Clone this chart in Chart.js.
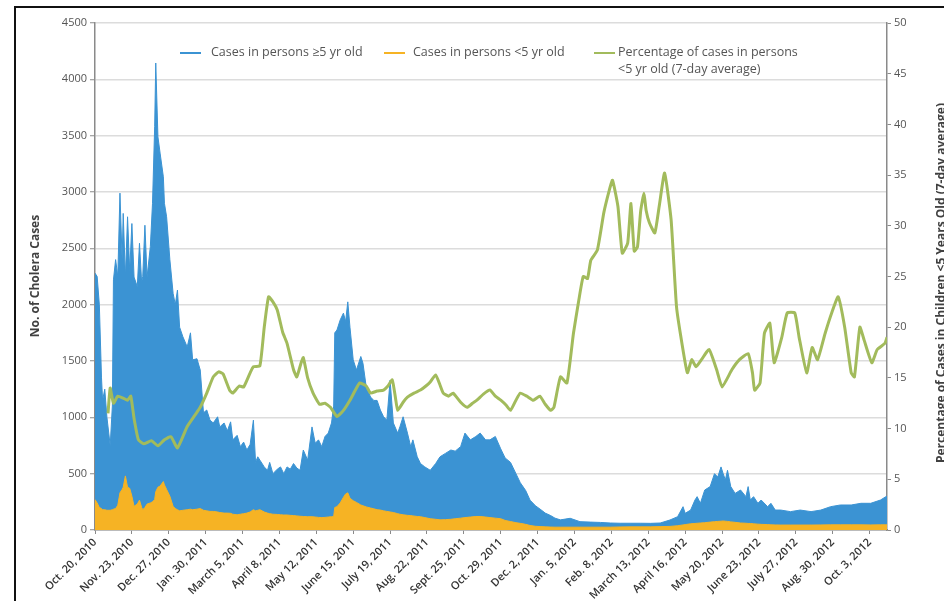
<!DOCTYPE html>
<html>
<head>
<meta charset="utf-8">
<script src="https://cdn.jsdelivr.net/npm/chart.js@4.4.1/dist/chart.umd.min.js"></script>
<style>
html,body{margin:0;padding:0;background:#fff;}
#wrap{position:relative;width:944px;height:601px;overflow:hidden;font-family:"Open Sans",sans-serif;}
#c{position:absolute;left:0;top:0;}
.frame{position:absolute;left:14px;top:6px;width:980px;height:640px;border-left:2px solid #111;border-top:2px solid #111;}
.ttl{position:absolute;font-weight:700;font-size:12px;color:#404040;white-space:nowrap;transform:translate(-50%,-50%) rotate(-90deg);}
.lg{position:absolute;font-size:12.5px;color:#555;line-height:17px;white-space:nowrap;}
.sw{position:absolute;height:2px;width:21px;}
</style>
</head>
<body>
<div id="wrap">
  <canvas id="c" width="944" height="601"></canvas>
  <div class="frame"></div>
  <div class="ttl" style="left:34px;top:276px;">No. of Cholera Cases</div>
  <div class="ttl" style="left:940px;top:283px;">Percentage of Cases in Children &lt;5 Years Old (7-day average)</div>
  <div class="sw" style="left:180px;top:52px;background:#3b93d3"></div>
  <div class="lg" style="left:211px;top:43px;">Cases in persons ≥5 yr old</div>
  <div class="sw" style="left:384px;top:52px;background:#f6b324"></div>
  <div class="lg" style="left:413px;top:43px;">Cases in persons &lt;5 yr old</div>
  <div class="sw" style="left:594px;top:52px;background:#a2bb5c"></div>
  <div class="lg" style="left:618px;top:43px;">Percentage of cases in persons<br>&lt;5 yr old (7-day average)</div>
</div>
<script>
'use strict';
/* Haiti cholera cases, daily, Oct 20 2010 - Oct 2012 (day 0 = Oct 20, 2010) */
const tickLabels=['Oct. 20, 2010','Nov. 23, 2010','Dec. 27, 2010','Jan. 30, 2011','March 5, 2011','April 8, 2011',
  'May 12, 2011','June 15, 2011','July 19, 2011','Aug. 22, 2011','Sept. 25, 2011','Oct. 29, 2011','Dec. 2, 2011',
  'Jan. 5, 2012','Feb. 8, 2012','March 13, 2012','April 16, 2012','May 20, 2012','June 23, 2012','July 27, 2012',
  'Aug. 30, 2012','Oct. 3, 2012'];
const tickDays=[0,34,68,102,136,170,204,238,272,306,340,374,408,442,476,510,544,578,612,646,680,714];

const caseDays=[
  0,2,4,6,7,9,11,14,16,17,
  19,21,23,25,26,28,30,32,34,36,
  39,41,43,44,46,48,51,53,55,56,
  58,60,63,64,66,69,72,74,76,78,
  81,85,88,90,94,97,100,103,106,109,
  113,115,119,122,125,127,131,134,137,140,
  143,146,148,150,152,156,159,161,164,168,
  171,174,177,180,183,186,189,192,196,200,
  203,206,209,212,215,218,220,221,223,226,
  229,231,233,235,238,241,245,247,250,254,
  257,260,263,266,269,272,275,279,281,284,
  288,291,293,297,300,304,309,314,318,323,
  328,332,337,341,346,351,355,360,364,369,
  374,378,383,388,392,397,401,406,411,415,
  420,424,429,438,447,457,466,475,484,494,
  503,512,521,530,537,542,544,549,553,555,
  558,562,567,571,574,577,579,581,583,586,
  590,595,600,602,604,607,611,614,620,623,
  627,632,641,650,660,669,678,687,697,706,
  715,724,729,730];
// top of the blue area (all ages)
const casesAll=[
  2280,2250,2000,1350,1150,1250,1000,750,1100,2220,
  2400,2250,2990,2400,2810,2245,2780,2300,2720,2245,
  2160,2545,2200,2250,2705,2245,2515,2900,3580,4145,
  3490,3345,3135,2900,2780,2400,2100,2000,2130,1800,
  1715,1625,1750,1510,1520,1420,1040,1065,975,950,
  1005,915,950,880,960,800,840,740,780,710,
  760,975,600,650,620,560,530,600,500,540,
  560,500,560,540,590,550,530,710,620,915,
  770,800,740,830,860,950,1100,1750,1775,1865,
  1925,1850,2025,1800,1510,1420,1540,1480,1270,1180,
  1150,1150,1065,1005,975,1330,950,860,915,1005,
  860,740,800,650,590,560,530,590,650,680,
  710,700,740,860,800,830,860,800,800,830,
  720,640,600,500,420,350,265,215,180,150,
  128,105,90,104,74,70,67,62,60,60,
  60,59,62,89,118,207,148,177,266,296,
  237,355,385,500,470,560,500,444,530,385,
  325,355,296,385,266,296,237,266,207,237,
  177,177,163,177,163,177,207,222,222,237,
  237,266,296,300];
const casesUnder5=[
  270,240,200,190,180,180,175,175,180,185,
  190,220,330,360,380,480,380,370,300,210,
  230,265,200,180,200,230,240,250,270,340,
  380,390,430,400,360,300,210,190,180,170,
  175,180,185,180,185,190,175,170,165,165,
  160,155,150,150,148,140,135,140,145,150,
  160,180,170,175,180,160,150,145,140,138,
  135,133,133,130,128,125,122,120,118,118,
  115,112,110,112,115,118,120,200,207,240,
  290,320,330,282,260,245,222,215,205,195,
  188,180,177,170,165,160,155,145,140,135,
  130,128,125,120,118,110,100,95,90,92,
  95,100,105,110,115,120,120,115,110,105,
  100,85,75,65,59,50,40,33,30,28,
  26,25,25,25,25,25,25,25,27,28,
  28,28,30,32,38,45,48,55,58,60,
  62,65,70,74,76,78,80,78,76,72,
  68,62,60,58,58,55,52,50,48,46,
  45,44,44,44,44,45,46,46,46,46,
  45,46,46,46];

const pctDays=[
  12,14,17,21,26,30,33,36,40,45,
  52,58,64,70,76,85,92,97,103,109,
  114,118,124,127,133,137,143,146,152,156,
  160,164,168,173,177,183,186,190,192,196,
  201,207,212,217,223,229,235,240,244,250,
  254,260,266,270,274,277,279,284,288,294,
  300,305,309,314,318,321,326,330,337,343,
  348,352,358,364,369,374,379,383,388,392,
  398,404,410,415,420,423,429,435,441,446,
  450,454,457,463,469,474,477,482,486,491,
  494,497,500,503,506,508,511,516,520,525,
  531,536,541,546,550,554,559,566,573,578,
  587,594,602,606,608,613,617,622,626,633,
  638,645,649,656,661,666,673,679,685,691,
  697,700,705,709,716,721,728,730];
const pctUnder5=[
  11.5,14,12.5,13.2,13,12.8,13.2,11,8.9,8.5,
  8.8,8.3,8.9,9.2,8.1,10.2,11.3,12.1,13.5,15.1,
  15.6,15.4,13.8,13.5,14.2,14.1,15.5,16.1,16.2,20,
  23,22.5,21.7,19.5,18.4,15.8,15.1,16.5,17,15,
  13.5,12.4,12.5,12.1,11.2,11.8,12.8,13.8,14.5,14.2,
  13.5,13.7,13.8,14.2,14.8,13,11.8,12.6,13.1,13.5,
  13.8,14.2,14.6,15.3,14.3,13.5,13.2,13.5,12.6,12.1,
  12.5,12.8,13.4,13.8,13.2,12.8,12.3,11.8,12.8,13.5,
  13.2,12.8,13.2,12.4,11.8,12.1,15.1,14.5,19.4,22.7,
  25,24.8,26.6,27.6,31.3,33.5,34.5,31.9,27.3,28.3,
  32.2,27.5,27.9,31.5,33.2,31.5,30.3,29.3,31.9,35.2,
  30.6,22,18.4,15.5,16.8,16.1,16.8,17.8,15.8,14.1,
  15.8,16.8,17.4,15.5,13.8,14.5,19.4,20.4,16.5,19,
  21.4,21.4,19,15.5,18,16.8,19.4,21.4,23,20,
  15.5,15.1,20,18.7,16.5,17.8,18.4,19];

const CC={blue:'#3b93d3',orange:'#f6b324',green:'#a2bb5c',axis:'#8a8a8a',grid:'#dcdcdc',text:'#555'};
const pts=(xs,ys)=>xs.map((d,i)=>({x:d,y:ys[i]}));

new Chart(document.getElementById('c'),{
  type:'line',
  data:{datasets:[
    {label:'Percentage of cases in persons <5 yr old (7-day average)',data:pts(pctDays,pctUnder5),yAxisID:'y2',
      borderColor:CC.green,borderWidth:3,pointRadius:0,fill:false,tension:0.15},
    {label:'Cases in persons <5 yr old',data:pts(caseDays,casesUnder5),yAxisID:'y',
      borderColor:CC.orange,backgroundColor:CC.orange,borderWidth:1,pointRadius:0,fill:'origin',tension:0},
    {label:'Cases in persons ≥5 yr old',data:pts(caseDays,casesAll),yAxisID:'y',
      borderColor:CC.blue,backgroundColor:CC.blue,borderWidth:1,pointRadius:0,fill:'origin',tension:0}
  ]},
  options:{
    responsive:false,animation:false,
    layout:{padding:{top:23,left:0,right:0,bottom:0}},
    plugins:{legend:{display:false},tooltip:{enabled:false}},
    scales:{
      x:{type:'linear',min:0,max:730,
        afterBuildTicks:s=>{s.ticks=tickDays.map(v=>({value:v}));},
        ticks:{autoSkip:false,minRotation:45,maxRotation:45,padding:2,color:'#333',
          font:{family:'Open Sans',size:11,weight:'600'},callback:(v,i)=>tickLabels[i]},
        grid:{drawOnChartArea:false,tickLength:4,color:CC.axis},
        border:{color:CC.axis,width:1.5},
        afterFit:s=>{s.height=71;}},
      y:{position:'left',min:0,max:4500,
        ticks:{stepSize:500,color:CC.text,padding:3,font:{family:'Open Sans',size:11},callback:v=>String(v)},
        grid:{color:CC.grid,lineWidth:1.5,tickLength:5,tickColor:CC.axis,tickWidth:1},
        border:{color:CC.axis,width:1.5},
        afterFit:s=>{s.width=95;}},
      y2:{position:'right',min:0,max:50,
        ticks:{stepSize:5,color:CC.text,padding:3,font:{family:'Open Sans',size:11},callback:v=>String(v)},
        grid:{drawOnChartArea:false,tickLength:4,color:CC.axis},
        border:{color:CC.axis,width:1.5},
        afterFit:s=>{s.width=57;}}
    }
  }
});
</script>
</body>
</html>
